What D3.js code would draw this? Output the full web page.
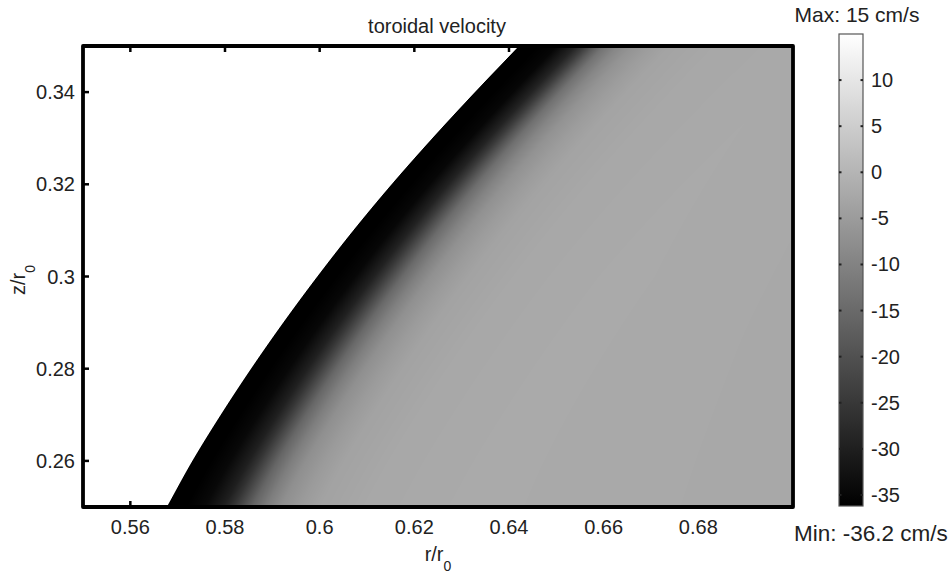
<!DOCTYPE html>
<html>
<head>
<meta charset="utf-8">
<script src="https://cdn.jsdelivr.net/npm/d3@7"></script>
<style>
html,body{margin:0;padding:0;background:#fff;}
text{font-family:"Liberation Sans",Arial,Helvetica,sans-serif;fill:#222;}
</style>
</head>
<body>
<svg id="chart" width="950" height="576"></svg>
<script>
// ---- data ----
const title = "toroidal velocity";
const xTicks = [0.56, 0.58, 0.60, 0.62, 0.64, 0.66, 0.68];
const yTicks = [0.26, 0.28, 0.30, 0.32, 0.34];
const cbTicks = [10, 5, 0, -5, -10, -15, -20, -25, -30, -35];
const vMin = -36.2, vMax = 15;
// left edge of the domain (r at each z)
const boundaryZ = [0.25, 0.26, 0.27, 0.28, 0.29, 0.30, 0.31, 0.32, 0.33, 0.34, 0.35];
const boundaryR = [0.5677, 0.5731, 0.5791, 0.5855, 0.5923, 0.5995, 0.6071, 0.6152, 0.6238, 0.6328, 0.6421];
// velocity profiles vs. horizontal distance from the boundary (r units)
const profileOffset = [0, 0.004, 0.008, 0.012, 0.014, 0.016, 0.018, 0.021, 0.024, 0.028, 0.032, 0.042, 0.063, 0.10, 0.15];
const profileZ = [0.25, 0.30, 0.35];
const profileBottom = [-36.2, -36.2, -34.5, -30, -26, -21, -16, -11, -7.5, -5.2, -3.6, -2.5, -2.1, -2.3, -2.7];
const profileMiddle = [-36.2, -36.2, -34.8, -29.5, -25, -20, -15, -10.5, -7.2, -5.0, -3.5, -2.5, -2.1, -2.4, -2.7];
const profileTop    = [-36.2, -36.2, -35.0, -29, -24, -18, -13, -9, -6.5, -4.6, -3.3, -2.5, -2.2, -2.5, -2.7];

// ---- layout ----
const svg = d3.select("#chart");
const L = 83, R = 793, T = 46, B = 507;
const x = d3.scaleLinear().domain([0.55, 0.70]).range([L, R]);
const y = d3.scaleLinear().domain([0.25, 0.35]).range([B, T]);
const gray = d3.scaleLinear().domain([vMin, vMax]).range(["#000000", "#ffffff"]).clamp(true);
const zIndex = d3.scaleLinear().domain([boundaryZ[0], boundaryZ[boundaryZ.length - 1]])
  .range([0, boundaryZ.length - 1]).clamp(true);
// smooth (Catmull-Rom) curve through the boundary points, linear end extension
function rBound(z) {
  const n = boundaryR.length;
  const u = zIndex(z);
  const k = Math.min(n - 2, Math.floor(u)), t = u - k;
  const p1 = boundaryR[k], p2 = boundaryR[k + 1];
  const p0 = k > 0 ? boundaryR[k - 1] : 2 * p1 - p2;
  const p3 = k + 2 < n ? boundaryR[k + 2] : 2 * p2 - p1;
  const t2 = t * t, t3 = t2 * t;
  return 0.5 * ((2 * p1) + (-p0 + p2) * t + (2 * p0 - 5 * p1 + 4 * p2 - p3) * t2 + (-p0 + 3 * p1 - 3 * p2 + p3) * t3);
}
const profiles = [profileBottom, profileMiddle, profileTop].map(p =>
  d3.scaleLinear().domain(profileOffset).range(p).clamp(true));
const zToRow = d3.scaleLinear().domain(profileZ).range([0, 1, 2]).clamp(true);

// ---- ticks (drawn beneath the image, pointing inward) ----
const tl = 6;
const tg = svg.append("g").attr("stroke", "#000").attr("stroke-width", 2.5);
xTicks.forEach(t => {
  tg.append("line").attr("x1", x(t)).attr("x2", x(t)).attr("y1", B).attr("y2", B - tl);
  tg.append("line").attr("x1", x(t)).attr("x2", x(t)).attr("y1", T).attr("y2", T + tl);
});
yTicks.forEach(t => {
  tg.append("line").attr("y1", y(t)).attr("y2", y(t)).attr("x1", L).attr("x2", L + tl);
  tg.append("line").attr("y1", y(t)).attr("y2", y(t)).attr("x1", R).attr("x2", R - tl);
});

// ---- field image ----
const W = R - L, H = B - T;
const canvas = document.createElement("canvas");
canvas.width = W; canvas.height = H;
const ctx = canvas.getContext("2d");
const img = ctx.createImageData(W, H);
const pxPerR = W / (x.domain()[1] - x.domain()[0]);
for (let j = 0; j < H; j++) {
  const z = y.invert(T + j + 0.5);
  const rb = rBound(z);
  const rowF = zToRow(z);
  const i0 = Math.min(1, Math.floor(rowF)), f = rowF - i0;
  for (let i = 0; i < W; i++) {
    const r = x.invert(L + i + 0.5);
    const s = r - rb;
    const a = Math.max(0, Math.min(1, s * pxPerR + 0.5));
    if (a <= 0) continue;
    const sd = Math.max(0, s);
    const v = profiles[i0](sd) * (1 - f) + profiles[i0 + 1](sd) * f;
    const c = d3.rgb(gray(v));
    const k = (j * W + i) * 4;
    img.data[k] = c.r; img.data[k + 1] = c.g; img.data[k + 2] = c.b;
    img.data[k + 3] = Math.round(a * 255);
  }
}
ctx.putImageData(img, 0, 0);
svg.append("image").attr("x", L).attr("y", T).attr("width", W).attr("height", H)
  .attr("href", canvas.toDataURL());

// ---- frame ----
svg.append("rect").attr("x", L).attr("y", T).attr("width", W).attr("height", H)
  .attr("fill", "none").attr("stroke", "#000").attr("stroke-width", 3.8)
  .attr("stroke-linejoin", "round");

// ---- tick labels ----
const fs = 20;
svg.append("g").selectAll("text").data(xTicks).join("text")
  .attr("x", d => x(d)).attr("y", 534).attr("text-anchor", "middle")
  .attr("font-size", fs).text(d => +d.toFixed(2));
svg.append("g").selectAll("text").data(yTicks).join("text")
  .attr("x", 75).attr("y", d => y(d)).attr("dy", "0.35em").attr("text-anchor", "end")
  .attr("font-size", fs).text(d => +d.toFixed(2));

// ---- title and axis labels ----
svg.append("text").attr("x", 437).attr("y", 33).attr("text-anchor", "middle")
  .attr("font-size", 20).text(title);
const xl = svg.append("text").attr("x", 438).attr("y", 561).attr("text-anchor", "middle").attr("font-size", 20);
xl.append("tspan").text("r/r");
xl.append("tspan").attr("dy", 10).attr("font-size", 14).text("0");
const yl = svg.append("text").attr("transform", "translate(25,280) rotate(-90)")
  .attr("text-anchor", "middle").attr("font-size", 20);
yl.append("tspan").text("z/r");
yl.append("tspan").attr("dy", 10).attr("font-size", 14).text("0");

// ---- colorbar ----
const cbL = 839, cbW = 24, cbT = 34, cbB = 506;
const cy = d3.scaleLinear().domain([vMin, vMax]).range([cbB, cbT]);
const grad = svg.append("defs").append("linearGradient").attr("id", "cbg")
  .attr("x1", 0).attr("y1", 1).attr("x2", 0).attr("y2", 0);
grad.append("stop").attr("offset", 0).attr("stop-color", gray(vMin));
grad.append("stop").attr("offset", 1).attr("stop-color", gray(vMax));
svg.append("rect").attr("x", cbL).attr("y", cbT).attr("width", cbW).attr("height", cbB - cbT)
  .attr("fill", "url(#cbg)").attr("stroke", "#555").attr("stroke-width", 1.2);
const cg = svg.append("g").attr("stroke", "#222").attr("stroke-width", 2);
cbTicks.forEach(t => {
  cg.append("line").attr("x1", cbL).attr("x2", cbL + 2.5).attr("y1", cy(t)).attr("y2", cy(t));
  cg.append("line").attr("x1", cbL + cbW - 2.5).attr("x2", cbL + cbW).attr("y1", cy(t)).attr("y2", cy(t));
});
svg.append("g").selectAll("text").data(cbTicks).join("text")
  .attr("x", 871).attr("y", d => cy(d)).attr("dy", "0.35em")
  .attr("font-size", fs).text(d => d);
svg.append("text").attr("x", 857).attr("y", 22).attr("text-anchor", "middle")
  .attr("font-size", 21).text("Max: " + vMax + " cm/s");
svg.append("text").attr("x", 794).attr("y", 541).attr("text-anchor", "start")
  .attr("font-size", 22.5).text("Min: " + vMin + " cm/s");
</script>
</body>
</html>
